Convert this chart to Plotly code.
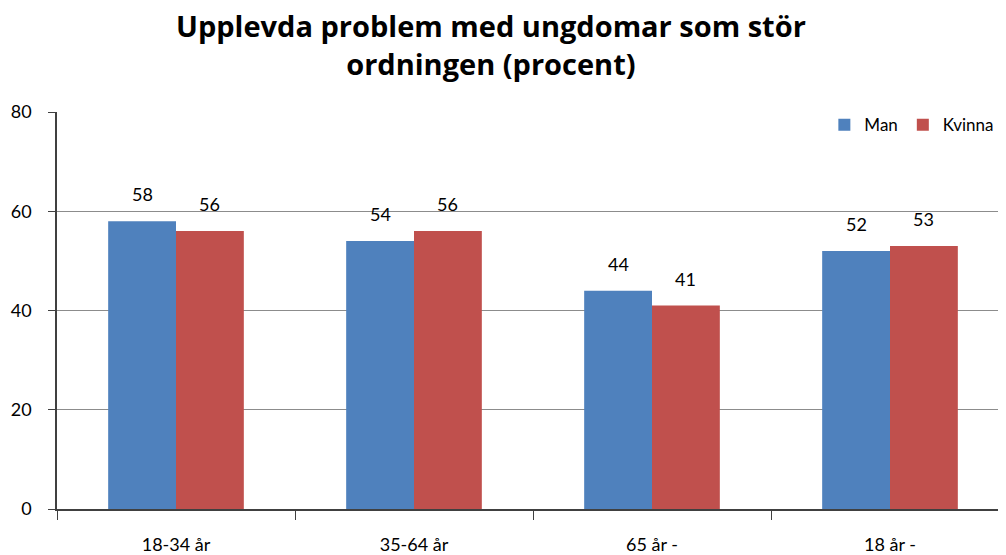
import plotly.graph_objects as go

categories = ["18-34 år", "35-64 år", "65 år -", "18 år -"]
man = [58, 54, 44, 52]
kvinna = [56, 56, 41, 53]
y_ticks = [0, 20, 40, 60, 80]

BLUE = "#4F81BD"
RED = "#C0504D"
FONT = "Lato"

fig = go.Figure()
fig.add_trace(go.Bar(name="Man", x=categories, y=man, marker=dict(color=BLUE, line=dict(width=0))))
fig.add_trace(go.Bar(name="Kvinna", x=categories, y=kvinna, marker=dict(color=RED, line=dict(width=0))))

# the page body has an 8px default margin, so the figure is sized to fit the window
OFF = 8
W, H = 1006 - OFF, 555 - OFF
L, R, T, B = 57 - OFF, 0, 112 - OFF, 44
plot_w = W - L - R
cat_w = 238.0
bar_offset = cat_w * (1 - 0.43) / 4

annotations = []
for i, c in enumerate(categories):
    for vals, sh in ((man, -bar_offset), (kvinna, bar_offset)):
        annotations.append(dict(x=c, y=vals[i], xref="x", yref="y", text=str(vals[i]),
                                showarrow=False, xshift=sh, yshift=14, yanchor="bottom",
                                font=dict(family=FONT, size=18, color="#000000")))

annotations.append(dict(
    x=(491 - OFF - L) / plot_w, y=1, xref="paper", yref="paper", yanchor="bottom", yshift=27,
    text="<b>Upplevda problem med ungdomar som stör<br>ordningen (procent)</b>",
    showarrow=False, font=dict(family="Open Sans", size=29, color="#000000"), align="center"))

x_end = -0.5 + plot_w / cat_w

fig.update_layout(
    width=W, height=H,
    margin=dict(l=L, r=R, t=T, b=B, pad=0),
    paper_bgcolor="white", plot_bgcolor="white",
    barmode="group", bargap=0.43, bargroupgap=0,
    showlegend=True,
    legend=dict(orientation="h", x=0.993, xanchor="right", y=1.012, yanchor="top",
                font=dict(family=FONT, size=17, color="#000000"),
                bgcolor="rgba(0,0,0,0)", traceorder="normal"),
    annotations=annotations,
    font=dict(family=FONT, color="#000000"),
)
fig.update_xaxes(
    type="category", range=[-0.5, x_end], tickson="boundaries", ticks="outside",
    ticklen=9, tickcolor="#404040", showline=True, linecolor="#404040", linewidth=1.5,
    showgrid=False, tickfont=dict(family=FONT, size=18, color="#000000"),
    ticklabelstandoff=19,
)
fig.update_yaxes(
    range=[0, 80], tickvals=y_ticks, ticks="outside", ticklen=7, tickcolor="#404040",
    showline=True, linecolor="#404040", linewidth=1.5,
    showgrid=True, gridcolor="#8C8C8C", gridwidth=1, zeroline=False,
    tickfont=dict(family=FONT, size=18, color="#000000"), ticklabelstandoff=13,
)

fig.write_html("out.html")
